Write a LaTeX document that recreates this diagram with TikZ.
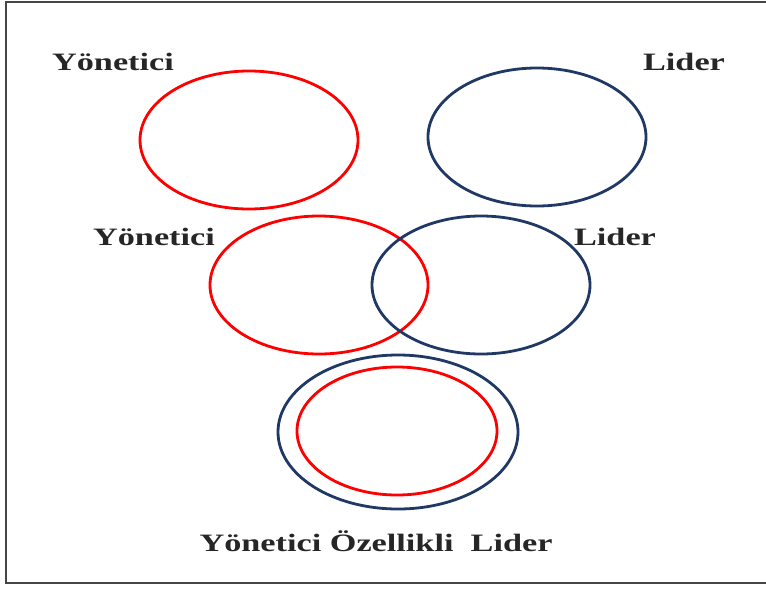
\documentclass[tikz,border=0pt]{standalone}
\usepackage{fontspec}
\setmainfont{Liberation Serif}
\usepackage{graphicx}
\definecolor{navy}{RGB}{31,56,100}
\definecolor{framegray}{RGB}{70,70,70}
\tikzset{
  redring/.style={draw=red, line width=2.8pt},
  bluering/.style={draw=navy, line width=2.8pt},
  label/.style={inner sep=0pt, font=\fontsize{25}{29}\selectfont\bfseries, text=black!85}
}
\newcommand{\wide}[1]{\scalebox{1.37}[1]{#1}}
\begin{document}
\begin{tikzpicture}[x=1pt,y=-1pt]
  \useasboundingbox (0,0) rectangle (766,590);
  % outer frame (right side runs past the page edge)
  \draw[framegray, line width=2pt] (6,2) rectangle (775,583);

  % separate roles
  \draw[redring]  (249,140) ellipse [x radius=109, y radius=69];
  \draw[bluering] (537,137) ellipse [x radius=109, y radius=69];
  \node[label] (y1) at (113,62) {\wide{Yönetici}};
  \node[label] (l1) at (684,62) {\wide{Lider}};

  % overlapping roles
  \draw[redring]  (319,285) ellipse [x radius=109, y radius=69];
  \draw[bluering] (481,285) ellipse [x radius=109, y radius=69];
  \node[label] (y2) at (154,237) {\wide{Yönetici}};
  \node[label] (l2) at (615,237) {\wide{Lider}};

  % nested roles
  \draw[bluering] (398,432) ellipse [x radius=120, y radius=77];
  \draw[redring]  (397,431) ellipse [x radius=100, y radius=64];
  \node[label] (y3) at (376,541) {\wide{Yönetici Özellikli\ \ Lider}};
\end{tikzpicture}
\end{document}
